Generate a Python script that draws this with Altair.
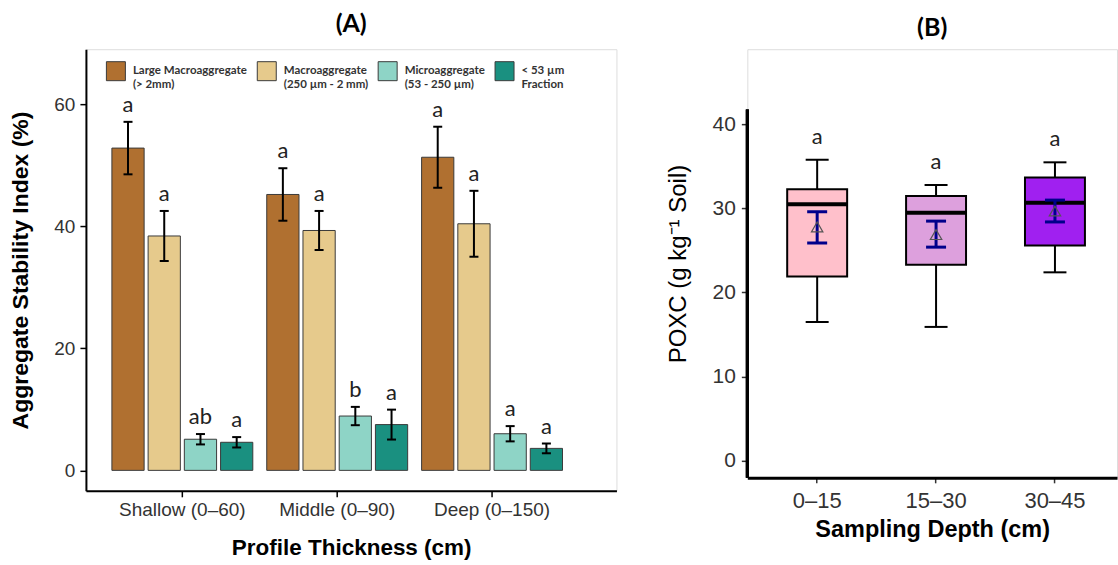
import altair as alt
import pandas as pd

# ---------------- Panel A data ----------------
groups = ["Shallow (0–60)", "Middle (0–90)", "Deep (0–150)"]
fractions = ["Large Macroaggregate|(> 2mm)", "Macroaggregate|(250 µm - 2 mm)",
             "Microaggregate|(53 - 250 µm)", "< 53 µm|Fraction"]
frac_colors = ["#B07030", "#E6CA8C", "#8ED4C6", "#1A9080"]

large_mean = [52.8, 45.2, 51.3]
macro_mean = [38.4, 39.3, 40.4]
micro_mean = [5.1, 8.9, 6.0]
fine_mean = [4.6, 7.5, 3.6]

large_se = [4.3, 4.3, 5.0]
macro_se = [4.1, 3.2, 5.4]
micro_se = [0.85, 1.5, 1.25]
fine_se = [0.85, 2.45, 0.8]

large_let = ["a", "a", "a"]
macro_let = ["a", "a", "a"]
micro_let = ["ab", "b", "a"]
fine_let = ["a", "a", "a"]

rowsA = []
for f, means, ses, lets in zip(fractions,
                               [large_mean, macro_mean, micro_mean, fine_mean],
                               [large_se, macro_se, micro_se, fine_se],
                               [large_let, macro_let, micro_let, fine_let]):
    for g, m, s, l in zip(groups, means, ses, lets):
        rowsA.append({"group": g, "fraction": f, "mean": m,
                      "lo": m - s, "hi": m + s, "letter": l})
dfA = pd.DataFrame(rowsA)

# ---------------- Panel B data ----------------
depths = ["0–15", "15–30", "30–45"]
depth_colors = ["#FFC0CB", "#DDA0DD", "#A020F0"]
whisk_low = [16.5, 15.9, 22.4]
q1 = [21.9, 23.3, 25.6]
median = [30.5, 29.5, 30.7]
q3 = [32.3, 31.5, 33.7]
whisk_high = [35.8, 32.8, 35.5]
mean_b = [27.8, 26.9, 29.7]
mean_lo = [25.9, 25.4, 28.4]
mean_hi = [29.6, 28.5, 31.0]
letters_b = ["a", "a", "a"]

dfB = pd.DataFrame({"depth": depths, "wl": whisk_low, "q1": q1, "med": median,
                    "q3": q3, "wh": whisk_high, "mean": mean_b,
                    "mlo": mean_lo, "mhi": mean_hi, "letter": letters_b})

AX_COLOR = "#333333"

# ---------------- Panel A chart ----------------
yA = alt.Scale(domain=[-3.35, 69], nice=False, zero=False)
xA = alt.X("group:N", sort=groups,
           scale=alt.Scale(paddingInner=0.09, paddingOuter=0.258, align=0.325),
           axis=alt.Axis(title="Profile Thickness (cm)", labelAngle=0,
                         labelFontSize=19, labelColor=AX_COLOR, labelPadding=4,
                         tickSize=6, tickColor="black", tickWidth=1.5,
                         domainColor="black", domainWidth=2,
                         titleFontSize=22.5, titleFontWeight="bold",
                         titlePadding=17, titleColor="black"))
xoffA = alt.XOffset("fraction:N", sort=fractions,
                    scale=alt.Scale(paddingInner=0.11, paddingOuter=0))
baseA = alt.Chart(dfA).encode(x=xA, xOffset=xoffA)

barsA = baseA.mark_bar(stroke="#3a3a3a", strokeWidth=1).encode(
    y=alt.Y("mean:Q", scale=yA,
            axis=alt.Axis(title="Aggregate Stability Index (%)", values=[0, 20, 40, 60],
                          grid=False, labelFontSize=19, labelColor=AX_COLOR,
                          labelPadding=5,
                          tickSize=6, tickColor="black", tickWidth=1.5,
                          domainColor="black", domainWidth=2,
                          titleFontSize=23, titleFontWeight="bold",
                          titlePadding=21, titleColor="black")),
    y2=alt.datum(0),
    color=alt.Color("fraction:N", sort=fractions,
                    scale=alt.Scale(domain=fractions, range=frac_colors),
                    legend=alt.Legend(title=None, orient="none", legendX=20, legendY=12,
                                      direction="horizontal", columns=4,
                                      symbolType="square", symbolSize=361,
                                      symbolStrokeColor="#3a3a3a", symbolStrokeWidth=1,
                                      symbolOpacity=1,
                                      labelExpr="split(datum.label, '|')",
                                      labelFont="Lato", labelFontSize=11.5,
                                      labelFontWeight="bold", labelColor="#333333",
                                      labelLimit=300, labelOffset=7,
                                      columnPadding=7)),
)
errA = baseA.mark_rule(color="black", strokeWidth=2).encode(
    y=alt.Y("lo:Q", scale=yA), y2="hi:Q")
capHiA = baseA.mark_tick(orient="horizontal", size=9, thickness=2, color="black",
                         opacity=1).encode(y=alt.Y("hi:Q", scale=yA))
capLoA = baseA.mark_tick(orient="horizontal", size=9, thickness=2, color="black",
                         opacity=1).encode(y=alt.Y("lo:Q", scale=yA))
letA = baseA.mark_text(baseline="bottom", dy=-5, fontSize=22, font="Lato",
                       color="#222222").encode(
    y=alt.Y("hi:Q", scale=yA), text="letter:N")

panelA = alt.layer(barsA, errA, capHiA, capLoA, letA).properties(
    width=531, height=442,
    title=alt.TitleParams("(A)", fontSize=25, fontWeight="bold", font="Lato",
                          color="black", offset=12))

# ---------------- Panel B chart ----------------
yB = alt.Scale(domain=[-2.07, 48.97], nice=False, zero=False)
AXIS_TOP_B = 41.8
xB = alt.X("depth:N", sort=depths,
           scale=alt.Scale(paddingInner=0, paddingOuter=0.0546, align=0.8),
           axis=alt.Axis(title="Sampling Depth (cm)", labelAngle=0,
                         labelFontSize=22, labelColor=AX_COLOR, labelPadding=8,
                         tickSize=5, tickColor="#333333", tickWidth=1.5,
                         domainColor="black", domainWidth=3,
                         titleFontSize=23.5, titleFontWeight="bold",
                         titlePadding=6, titleColor="black"))
baseB = alt.Chart(dfB).encode(x=xB)

axisRuleB = alt.Chart(dfB).mark_rule(color="black", strokeWidth=3).encode(
    x=alt.value(0),
    y=alt.YDatum(-2.07, scale=yB,
                 axis=alt.Axis(title="POXC (g kg⁻¹ Soil)", values=[0, 10, 20, 30, 40],
                               grid=False, domain=False, labelFontSize=21,
                               labelColor=AX_COLOR, labelPadding=6,
                               tickSize=6, tickColor="#333333",
                               tickWidth=1.5, titleFontSize=24,
                               titleFontWeight="normal", titlePadding=22,
                               titleColor="black")),
    y2=alt.datum(AXIS_TOP_B))
whLo = baseB.mark_rule(color="black", strokeWidth=2).encode(
    y=alt.Y("wl:Q", scale=yB), y2="q1:Q")
whHi = baseB.mark_rule(color="black", strokeWidth=2).encode(
    y=alt.Y("q3:Q", scale=yB), y2="wh:Q")
capWl = baseB.mark_tick(orient="horizontal", size=23, thickness=2, color="black",
                        opacity=1).encode(y=alt.Y("wl:Q", scale=yB))
capWh = baseB.mark_tick(orient="horizontal", size=23, thickness=2, color="black",
                        opacity=1).encode(y=alt.Y("wh:Q", scale=yB))
box = baseB.mark_bar(size=60, stroke="black", strokeWidth=2, opacity=1).encode(
    y=alt.Y("q1:Q", scale=yB), y2="q3:Q",
    color=alt.Color("depth:N", scale=alt.Scale(domain=depths, range=depth_colors),
                    legend=None))
med = baseB.mark_tick(orient="horizontal", size=60, thickness=4, color="black",
                      opacity=1).encode(y=alt.Y("med:Q", scale=yB))
mErr = baseB.mark_rule(color="#00008B", strokeWidth=3).encode(
    y=alt.Y("mlo:Q", scale=yB), y2="mhi:Q")
mCapLo = baseB.mark_tick(orient="horizontal", size=20, thickness=3, color="#00008B",
                         opacity=1).encode(y=alt.Y("mlo:Q", scale=yB))
mCapHi = baseB.mark_tick(orient="horizontal", size=20, thickness=3, color="#00008B",
                         opacity=1).encode(y=alt.Y("mhi:Q", scale=yB))
mPt = baseB.mark_point(shape="triangle-up", filled=False, size=130, color="#555555",
                       strokeWidth=1.2, opacity=1).encode(y=alt.Y("mean:Q", scale=yB))
letB = baseB.mark_text(baseline="middle", dy=-23, fontSize=22, font="Lato",
                       color="#222222").encode(
    y=alt.Y("wh:Q", scale=yB), text="letter:N")

panelB = alt.layer(axisRuleB, whLo, whHi, capWl, capWh, box, med, mErr, mCapLo,
                   mCapHi, mPt, letB).properties(
    width=370, height=429,
    title=alt.TitleParams("(B)", fontSize=25, fontWeight="bold", font="Lato",
                          color="black", offset=8))

chart = alt.hconcat(panelA, panelB, spacing=48).resolve_scale(
    color="independent").configure_view(
    stroke=None).configure(
    font="Liberation Sans",
    padding={"left": 9, "top": 11, "right": 0, "bottom": 0})

chart.save("out.html", embed_options={"renderer": "svg", "actions": False})
